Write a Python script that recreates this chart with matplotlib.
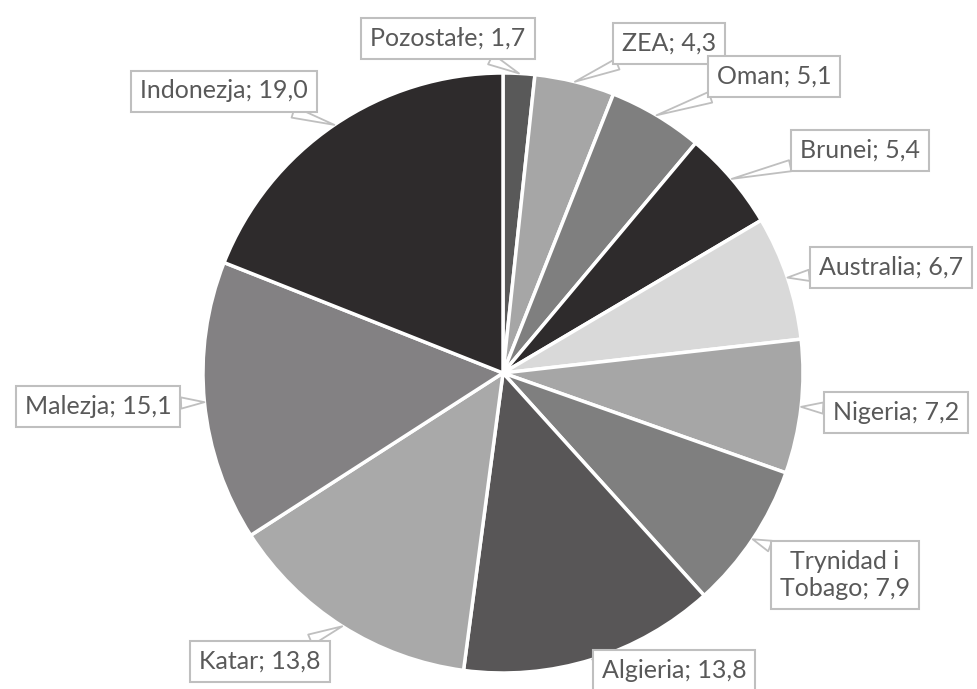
import matplotlib
matplotlib.use("Agg")
import matplotlib.pyplot as plt
import numpy as np

labels = ["Pozostałe", "ZEA", "Oman", "Brunei", "Australia", "Nigeria",
          "Trynidad i\nTobago", "Algieria", "Katar", "Malezja", "Indonezja"]
values = [1.7, 4.3, 5.1, 5.4, 6.7, 7.2, 7.9, 13.8, 13.8, 15.1, 19.0]
value_text = ["1,7", "4,3", "5,1", "5,4", "6,7", "7,2", "7,9", "13,8", "13,8", "15,1", "19,0"]

colors = ["#595959", "#a6a6a6", "#7f7f7f", "#2e2b2c", "#d9d9d9", "#a6a6a6",
          "#7f7f7f", "#585657", "#a9a9a9", "#838183", "#2e2b2c"]

# label box centres in pixel coordinates (layout)
label_pos = [(448, 38), (669, 43), (774, 76), (860, 150), (891, 267), (896, 412),
             (845, 575), (674, 670), (260, 661), (98, 406), (224, 91)]

W, H = 977, 689
fig = plt.figure(figsize=(W / 100, H / 100), dpi=100)
ax = fig.add_axes([0, 0, 1, 1])

cx, cy, r = 503, H - 373, 300
wedges, _ = ax.pie(values, colors=colors, startangle=90, counterclock=False,
                   center=(cx, cy), radius=r, frame=True,
                   wedgeprops=dict(edgecolor="white", linewidth=2.5))
ax.set_xlim(0, W)
ax.set_ylim(0, H)
ax.set_aspect("equal")
ax.axis("off")

for w, lab, vt, (lx, ly) in zip(wedges, labels, value_text, label_pos):
    ang = np.deg2rad((w.theta1 + w.theta2) / 2)
    px = cx + r * np.cos(ang)
    py = cy + r * np.sin(ang)
    ax.annotate(f"{lab}; {vt}", xy=(px, py), xytext=(lx, H - ly),
                ha="center", va="center", fontsize=18, color="#595959",
                family=["Lato", "DejaVu Sans"], linespacing=1.2,
                bbox=dict(boxstyle="square,pad=0.36", fc="white", ec="#bfbfbf", lw=1.5),
                arrowprops=dict(arrowstyle="wedge,tail_width=0.45,shrink_factor=0.5",
                                fc="white", ec="#bfbfbf", lw=1.3, shrinkA=0, shrinkB=0))

fig.savefig("out.png", dpi=100)
